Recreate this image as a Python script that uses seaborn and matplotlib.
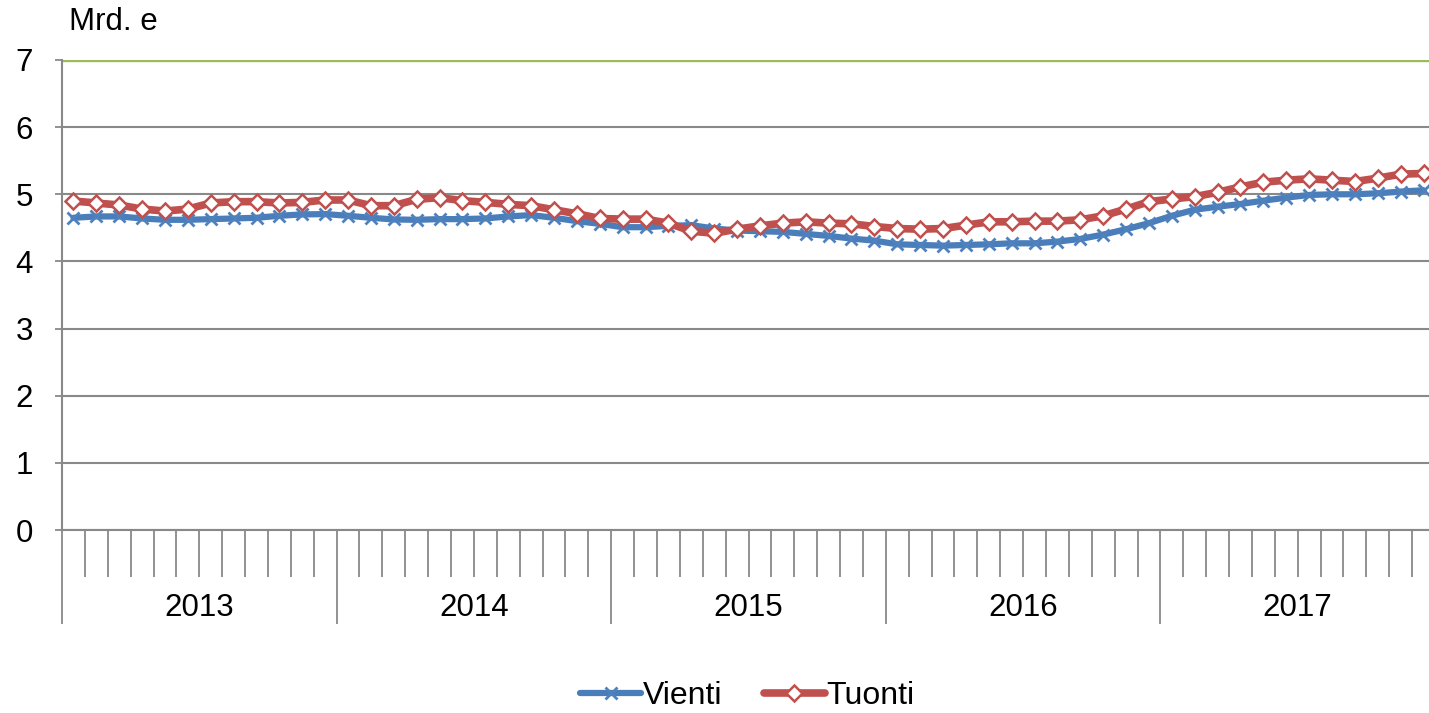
import pandas as pd
import numpy as np
import matplotlib
matplotlib.use("Agg")
import matplotlib.pyplot as plt
import seaborn as sns

# kuukausidata 2013-2017, mrd. e
years = ["2013", "2014", "2015", "2016", "2017"]

vienti = [4.65, 4.67, 4.67, 4.64, 4.62, 4.62, 4.63, 4.64, 4.65, 4.68, 4.70, 4.705,
          4.68, 4.65, 4.625, 4.62, 4.63, 4.63, 4.64, 4.67, 4.69, 4.65, 4.60, 4.56,
          4.51, 4.51, 4.53, 4.54, 4.49, 4.46, 4.45, 4.44, 4.41, 4.38, 4.34, 4.31,
          4.255, 4.245, 4.235, 4.245, 4.255, 4.27, 4.27, 4.295, 4.335, 4.40, 4.48, 4.57,
          4.68, 4.77, 4.815, 4.855, 4.905, 4.95, 4.99, 5.00, 5.00, 5.015, 5.04, 5.06]

tuonti = [4.90, 4.87, 4.84, 4.78, 4.75, 4.78, 4.87, 4.89, 4.89, 4.87, 4.88, 4.915,
          4.915, 4.83, 4.83, 4.925, 4.95, 4.905, 4.88, 4.85, 4.83, 4.77, 4.71, 4.64,
          4.63, 4.63, 4.57, 4.45, 4.42, 4.48, 4.53, 4.57, 4.59, 4.57, 4.56, 4.52,
          4.49, 4.48, 4.49, 4.54, 4.59, 4.59, 4.60, 4.60, 4.62, 4.68, 4.78, 4.89,
          4.93, 4.965, 5.03, 5.11, 5.18, 5.21, 5.23, 5.21, 5.19, 5.24, 5.30, 5.31]

months = np.arange(len(vienti))

sns.set_style("white")
plt.rcParams['font.family'] = ['Liberation Sans', 'DejaVu Sans']
plt.rcParams['text.color'] = 'black'
plt.rcParams['xtick.color'] = 'black'
plt.rcParams['ytick.color'] = 'black'

grey = '#898989'

fig = plt.figure(figsize=(14.29, 7.13), dpi=100)
ax = fig.add_axes([62 / 1429, 183 / 713, 1373 / 1429, 470 / 713])

# sarjat
series = [
    ("Vienti", vienti, dict(color='#4A7EBB', lw=4.5, marker='x', markersize=8.5,
                            mec='#4F81BD', mew=2.0)),
    ("Tuonti", tuonti, dict(color='#C0504D', lw=5.5, marker='D', markersize=8.5,
                            mfc='white', mec='#C0504D', mew=1.8)),
]
for name, vals, style in series:
    df = pd.DataFrame({'kk': months, 'arvo': vals})
    sns.lineplot(data=df, x='kk', y='arvo', ax=ax, label=name, **style)

ax.set_xlim(-0.5, 59.5)
ax.set_ylim(0, 7)
ax.set_xlabel('')
ax.set_ylabel('')

# y-akseli ja ruudukko
ax.set_yticks(range(8))
ax.yaxis.grid(True, color=grey, lw=1.5)
ax.get_ygridlines()[-1].set_color('#9BBB59')
ax.get_ygridlines()[-1].set_linewidth(2.4)
ax.tick_params(axis='y', left=True, length=5, width=1.3, color=grey,
               labelcolor='black', pad=16, labelsize=22.5)

# x-akseli: kuukausien väliviivat ja vuosirajat
year_edges = np.arange(-0.5, 60, 12)
minor = [k + 0.5 for k in range(59) if (k + 1) % 12 != 0]
ax.set_xticks(year_edges)
ax.set_xticklabels([''] * len(year_edges))
ax.set_xticks(minor, minor=True)
ax.tick_params(axis='x', which='major', bottom=True, length=68, width=1.3, color=grey)
ax.tick_params(axis='x', which='minor', bottom=True, length=34, width=1.3, color=grey)

for i, y in enumerate(years):
    ax.text(i * 12 + 5.5, -0.165, y, transform=ax.get_xaxis_transform(),
            ha='center', va='center', fontsize=22.5, color='black')

for s in ['top', 'right']:
    ax.spines[s].set_visible(False)
ax.spines['left'].set_color(grey)
ax.spines['left'].set_linewidth(1.5)
ax.spines['bottom'].set_color(grey)
ax.spines['bottom'].set_linewidth(1.5)

fig.text(69 / 1429, 0.969, 'Mrd. e', fontsize=22.5, va='center', ha='left', color='black')

ax.legend_.remove()
handles, labels = ax.get_legend_handles_labels()
fig.legend(handles, labels, loc='center', bbox_to_anchor=(0.523, 0.024),
           ncol=2, frameon=False, fontsize=23, handlelength=1.9,
           handletextpad=0.05, columnspacing=1.3, borderpad=0, labelcolor='black')

fig.savefig('out.png', dpi=100)
